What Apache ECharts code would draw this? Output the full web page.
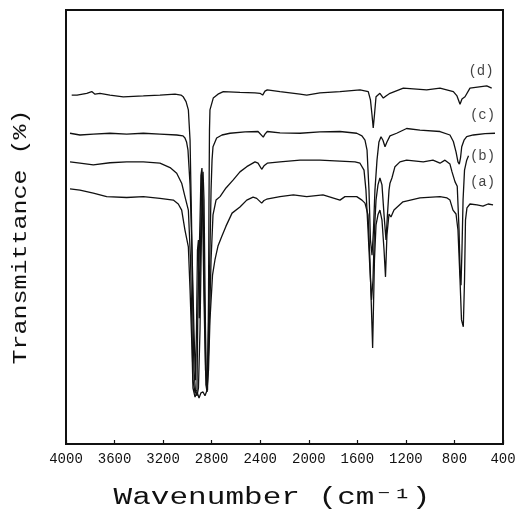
<!DOCTYPE html>
<html><head><meta charset="utf-8">
<script src="https://cdn.jsdelivr.net/npm/echarts@6/dist/echarts.min.js"></script>
<style>html,body{margin:0;padding:0;background:#fff}#c{width:520px;height:513px}</style>
</head><body><div id="c"></div>
<script>
// Wavenumber (cm-1) and transmittance (%, arbitrary offset)
const wnA = [3967,3885,3775,3665,3500,3363,3226,3116,3075,3047,3020,2992,2978,2962,2954,2937,2921,2904,2888,2871,2855,2838,2826,2814,2793,2773,2748,2717,2682,2632,2567,2511,2459,2429,2388,2369,2347,2237,2127,2017,1883,1743,1702,1605,1562,1537,1512,1496,1474,1459,1446,1430,1414,1397,1380,1368,1356,1339,1323,1298,1224,1084,919,861,837,812,787,771,754,742,727,717,709,697,672,614,565,523,482];
const trA = [58.8,58.5,57.8,57.0,56.8,57.0,56.6,56.2,55.3,53.9,49.3,45.4,35.5,21.7,12.9,10.8,12.0,10.6,11.8,12.0,11.1,12.4,17.1,28.6,38.9,42.4,45.6,47.8,50.2,53.2,54.6,56.2,56.9,56.6,55.5,56.1,56.4,57.0,57.4,57.0,57.4,56.2,57.0,57.0,56.2,55.5,52.8,42.4,22.1,42.4,50.5,52.8,53.9,51.6,44.7,38.5,48.2,53.0,52.3,53.9,55.8,56.7,57.0,56.7,56.2,53.9,53.0,49.3,37.8,28.6,27.0,37.8,51.6,54.4,55.3,55.1,54.8,55.3,55.1];

const wnB = [3967,3885,3775,3638,3500,3363,3226,3143,3088,3047,3020,2992,2974,2962,2954,2937,2921,2913,2904,2896,2888,2880,2871,2859,2847,2838,2822,2805,2789,2764,2731,2682,2624,2567,2511,2443,2418,2388,2369,2342,2237,2072,1908,1743,1619,1578,1562,1545,1529,1512,1496,1483,1471,1459,1446,1430,1414,1397,1380,1364,1352,1339,1331,1315,1290,1249,1194,1057,977,919,878,837,820,795,777,762,754,746,738,729,717,699,684];
const trB = [65.0,64.7,64.3,64.8,65.0,65.0,64.7,63.7,62.4,60.1,57.0,53.9,42.4,26.3,14.7,11.8,12.4,33.2,42.4,51.6,62.0,63.6,56.2,33.2,13.6,12.0,24.0,42.4,52.8,56.2,57.0,59.0,60.8,62.7,63.9,65.0,64.7,63.3,64.1,64.7,65.0,65.4,65.4,65.2,65.0,64.7,64.3,63.1,58.5,49.3,40.1,33.2,37.8,49.3,56.2,59.7,61.3,59.7,52.8,47.0,52.8,58.5,60.1,61.3,63.9,65.0,65.4,65.0,65.4,64.7,65.4,64.5,62.7,60.4,59.4,49.3,40.1,36.6,44.7,56.2,63.1,65.4,66.4];

const wnC = [3967,3885,3775,3638,3500,3363,3226,3088,3036,3020,3007,2995,2978,2962,2946,2933,2925,2917,2909,2902,2892,2884,2876,2863,2851,2838,2826,2814,2805,2797,2789,2759,2715,2649,2525,2418,2402,2375,2361,2342,2237,2072,1908,1743,1605,1562,1537,1520,1504,1492,1479,1467,1455,1438,1422,1405,1389,1372,1356,1331,1276,1194,1084,919,837,809,787,771,760,750,740,721,699,645,548,466];
const trC = [71.6,71.2,71.4,71.6,71.4,71.6,71.4,71.2,71.0,70.5,69.6,67.7,59.7,44.7,26.3,14.7,26.3,44.7,47.0,29.0,44.7,62.0,56.2,33.2,17.1,13.6,26.3,44.7,58.5,65.4,68.5,70.5,71.2,71.6,71.9,72.0,71.9,70.7,71.4,72.0,71.7,71.6,71.9,72.0,71.6,71.0,70.0,67.7,58.5,47.0,43.5,49.3,58.5,65.4,69.6,70.8,70.0,68.5,69.6,71.0,71.6,72.7,72.3,72.0,71.2,69.7,67.3,65.0,64.5,65.9,68.5,70.0,70.8,71.2,71.5,71.6];

const wnD = [3953,3909,3829,3788,3761,3720,3638,3528,3363,3226,3102,3053,3034,3011,2992,2978,2966,2954,2946,2933,2921,2909,2896,2880,2871,2863,2851,2843,2834,2826,2822,2818,2814,2787,2748,2704,2567,2443,2402,2380,2361,2342,2237,2072,2017,1908,1743,1578,1510,1492,1479,1469,1459,1446,1430,1414,1386,1364,1331,1221,1029,919,809,779,754,738,713,672,534,493];
const trD = [80.4,80.4,80.8,81.2,80.6,80.8,80.4,80.0,80.2,80.4,80.6,80.4,80.0,78.9,77.0,70.0,51.6,28.6,17.1,12.0,11.1,12.9,26.3,56.2,62.7,56.2,26.3,13.6,12.4,33.2,56.2,72.3,77.0,79.7,80.6,81.2,81.0,80.9,80.8,80.4,81.3,81.6,81.2,80.6,80.4,80.9,81.2,81.6,81.2,79.3,75.8,72.8,75.8,80.0,80.4,80.8,79.7,80.2,80.8,82.0,81.6,82.0,81.2,80.2,78.3,79.5,80.0,82.0,82.5,82.0];

// curve labels and where they sit (data coordinates)
const labelText = ['(a)','(b)','(c)','(d)'];
const labelWn = [569,569,569,581];
const labelTr = [60.4,66.2,75.8,85.9];

const xTicks = [4000,3600,3200,2800,2400,2000,1600,1200,800,400];
const xName = 'Wavenumber (cm\u207B\u00B9)';
const yName = 'Transmittance (%)';

const MONO = '"Liberation Mono","DejaVu Sans Mono",monospace';
const zip = (w, t) => w.map((v, i) => [v, t[i]]);

const curves = [[wnA,trA],[wnB,trB],[wnC,trC],[wnD,trD]];
const series = curves.map((c, i) => ({
  name: labelText[i], type: 'line', data: zip(c[0], c[1]),
  showSymbol: false, symbol: 'none', smooth: false, silent: true,
  lineStyle: { color: '#111', width: 1.3 }
}));
series.push({
  type: 'scatter', symbolSize: 0, silent: true,
  data: labelText.map((t, i) => ({ name: t, value: [labelWn[i], labelTr[i]] })),
  label: { show: true, position: 'inside', formatter: p => p.name,
    color: '#111', fontFamily: MONO, fontSize: 14 }
});

const chart = echarts.init(document.getElementById('c'), null, { renderer: 'canvas' });
chart.setOption({
  animation: false,
  backgroundColor: '#fff',
  grid: { left: 66, right: 17, top: 10, bottom: 69, show: true, borderColor: '#111', borderWidth: 2, outerBoundsMode: 'none' },
  xAxis: {
    type: 'value', inverse: true, min: 400, max: 4000, interval: 400,
    axisLine: { show: true, lineStyle: { color: '#111', width: 2 } },
    axisTick: { show: true, inside: true, length: 4, lineStyle: { color: '#111', width: 1.2 } },
    axisLabel: { show: true, color: '#111', fontFamily: MONO, fontSize: 14, margin: 8,
      formatter: v => (xTicks.indexOf(v) >= 0 ? String(v) : '') },
    splitLine: { show: false }
  },
  yAxis: {
    type: 'value', min: 0, max: 100,
    axisLine: { show: true, lineStyle: { color: '#111', width: 2 } },
    axisTick: { show: false }, axisLabel: { show: false }, splitLine: { show: false }
  },
  graphic: [
    { type: 'text', x: 272, y: 498, scaleX: 1.35, scaleY: 1,
      style: { text: xName, fontFamily: MONO, fontSize: 23, fill: '#111', align: 'center', verticalAlign: 'middle' } },
    { type: 'text', x: 21, y: 237, rotation: Math.PI / 2, scaleX: 1.25, scaleY: 1,
      style: { text: yName, fontFamily: MONO, fontSize: 20, fill: '#111', align: 'center', verticalAlign: 'middle' } }
  ],
  series: series
});
</script>
</body></html>
